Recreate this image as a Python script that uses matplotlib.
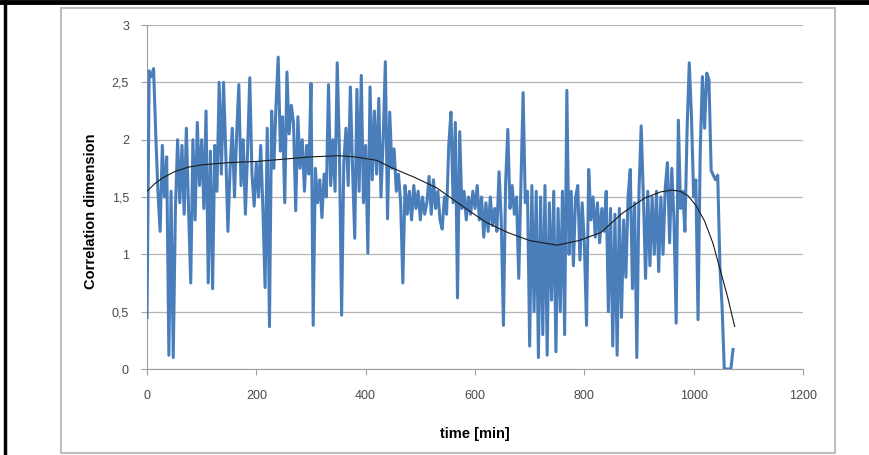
import numpy as np
import matplotlib
matplotlib.use('Agg')
from matplotlib import pyplot as plt
from matplotlib.patches import Rectangle
from matplotlib.lines import Line2D

corr_dim = [
    0.45, 2.6, 2.55, 2.62, 2.05, 1.55, 1.2, 1.95, 1.5, 1.85,
    0.12, 1.55, 0.1, 1.4, 2.0, 1.45, 1.95, 1.35, 2.1, 1.4,
    0.75, 2.0, 1.3, 2.15, 1.6, 2.0, 1.4, 2.25, 0.75, 1.9,
    0.7, 1.95, 1.55, 2.5, 1.7, 2.5, 1.9, 1.2, 1.75, 2.1,
    1.5, 2.05, 2.48, 1.6, 2.0, 1.35, 1.9, 2.54, 1.7, 1.42,
    1.8, 1.5, 1.95, 1.4, 0.71, 2.1, 0.37, 2.25, 1.75, 2.3,
    2.72, 1.9, 2.2, 1.45, 2.59, 2.05, 2.3, 2.15, 1.38, 2.2,
    1.75, 2.0, 1.55, 1.95, 1.7, 2.49, 0.38, 1.75, 1.45, 1.65,
    1.32, 1.7, 1.5, 2.48, 1.6, 2.0, 1.55, 2.67, 1.9, 0.47,
    1.8, 2.1, 1.6, 2.46, 1.75, 1.14, 2.44, 1.55, 2.56, 1.45,
    1.95, 1.01, 2.46, 1.65, 2.25, 1.7, 2.36, 1.5, 2.0, 2.68,
    1.31, 2.24, 1.75, 1.92, 1.55, 1.7, 1.45, 0.75, 1.6, 1.35,
    1.55, 1.3, 1.6, 1.4, 1.55, 1.3, 1.5, 1.35, 1.45, 1.68,
    1.35, 1.65, 1.4, 1.55, 1.3, 1.22, 1.5, 1.35, 1.95, 2.24,
    1.45, 2.15, 0.62, 2.07, 1.4, 1.55, 1.3, 1.5, 1.35, 1.55,
    1.4, 1.6, 1.3, 1.5, 1.15, 1.45, 1.2, 1.5, 1.25, 1.4,
    1.2, 1.72, 1.3, 0.38, 1.62, 2.09, 1.4, 1.6, 1.35, 1.5,
    0.79, 1.6, 2.41, 1.45, 1.55, 0.2, 1.6, 0.5, 1.55, 0.1,
    1.5, 0.3, 1.6, 0.12, 1.45, 0.6, 1.55, 0.15, 1.4, 0.5,
    1.55, 0.3, 2.43, 1.0, 1.55, 0.9, 1.5, 1.6, 0.95, 1.45,
    1.1, 0.38, 1.74, 1.3, 1.5, 1.15, 1.45, 1.1, 1.4, 1.2,
    1.55, 0.5, 1.4, 0.2, 1.35, 0.12, 1.4, 0.45, 1.3, 0.8,
    1.5, 1.74, 0.7, 1.45, 0.1, 1.55, 2.12, 1.5, 0.79, 1.55,
    0.9, 1.5, 1.0, 1.55, 0.85, 1.5, 1.0, 1.58, 1.8, 1.1,
    1.75, 1.3, 0.4, 2.17, 1.4, 1.55, 1.2, 2.1, 2.67, 2.2,
    1.5, 1.65, 0.43, 1.9, 2.55, 2.1, 2.58, 2.52, 1.73, 1.69,
    1.65, 1.69, 0.9, 0.54, 0.0, 0.0, 0.0, 0.0, 0.17,
]
time_min = np.arange(len(corr_dim)) * 4

# Polynomial trend line
trend_time = [0, 15, 30, 50, 75, 100, 150, 200, 250, 300, 350, 380, 420, 450,
              490, 530, 580, 620, 660, 700, 750, 790, 830, 870, 910, 940, 960,
              975, 990, 1005, 1020, 1035, 1050, 1062, 1075]
trend_val = [1.55, 1.62, 1.67, 1.72, 1.76, 1.78, 1.80, 1.81, 1.83, 1.85, 1.86,
             1.85, 1.82, 1.75, 1.67, 1.58, 1.41, 1.28, 1.19, 1.12, 1.08, 1.12,
             1.19, 1.36, 1.49, 1.545, 1.56, 1.55, 1.51, 1.42, 1.29, 1.10, 0.84,
             0.63, 0.37]

y_ticks = [0, 0.5, 1, 1.5, 2, 2.5, 3]
y_tick_labels = ['0', '0,5', '1', '1,5', '2', '2,5', '3']
x_ticks = [0, 200, 400, 600, 800, 1000, 1200]

plt.rcParams['font.family'] = ['Liberation Sans', 'DejaVu Sans']

fig = plt.figure(figsize=(8.7, 4.55), dpi=100)

# outer black border (top and left)
fig.add_artist(Line2D([0, 1], [1 - 2 / 455, 1 - 2 / 455], color='black', lw=3.5))
fig.add_artist(Line2D([5 / 870, 5 / 870], [0, 1], color='black', lw=2.5))
# light gray chart frame
fig.add_artist(Rectangle((61 / 870, 2 / 455), (835 - 61) / 870, (453 - 8) / 455,
                         fill=False, edgecolor='#bdbdbd', lw=1.5))

ax = fig.add_axes([147 / 870, 1 - 369 / 455, (803 - 147) / 870, (369 - 25) / 455])

ax.plot(time_min, corr_dim, color='#4a7ebb', lw=2.2, zorder=3)
ax.plot(trend_time, trend_val, color='#1a1a1a', lw=0.8, zorder=4)

ax.set_xlim(0, 1200)
ax.set_ylim(0, 3)
ax.set_xticks(x_ticks)
ax.set_xticklabels([str(v) for v in x_ticks])
ax.set_yticks(y_ticks)
ax.set_yticklabels(y_tick_labels)

ax.grid(axis='y', color='#b5b5b5', lw=0.9)
ax.set_axisbelow(True)
for side in ['top', 'right']:
    ax.spines[side].set_visible(False)
for side in ['left', 'bottom']:
    ax.spines[side].set_color('#a0a0a0')
ax.tick_params(axis='both', colors='#a0a0a0', labelcolor='#4a4a4a',
               labelsize=9, length=4, width=0.8)
ax.tick_params(axis='y', pad=9)
ax.tick_params(axis='x', pad=11)

ax.set_xlabel('time [min]', fontsize=10.5, fontweight='bold', labelpad=18)
ax.set_ylabel('Correlation dimension', fontsize=10.5, fontweight='bold')
ax.yaxis.set_label_coords(-0.075, 0.46)

plt.savefig('out.png', dpi=100)
